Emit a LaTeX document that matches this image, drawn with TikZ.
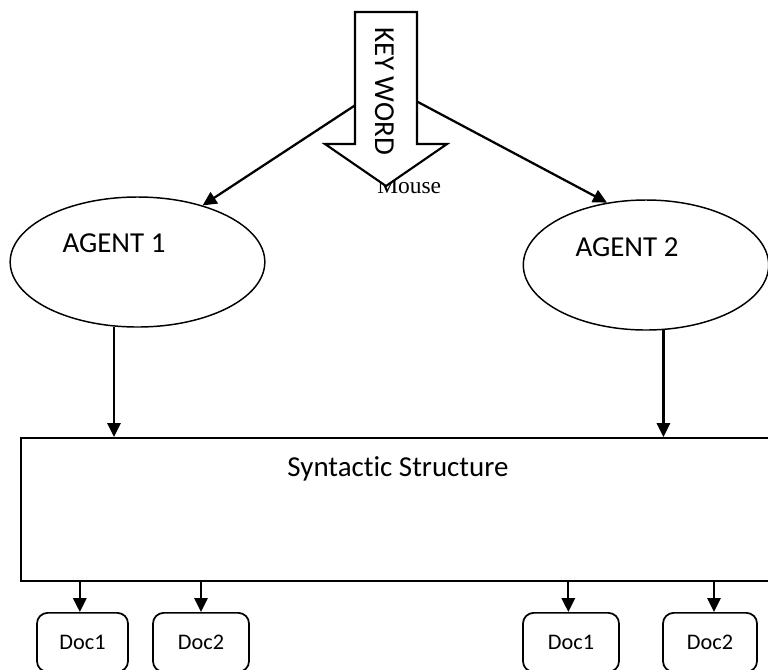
\documentclass[tikz,border=0pt]{standalone}
\usepackage{fontspec}
\setmainfont{Carlito}[Ligatures={NoCommon,NoRare}]
\newfontfamily\mouseserif{Liberation Serif}
\usetikzlibrary{arrows.meta,shapes.geometric}
\begin{document}
\begin{tikzpicture}[x=0.75pt,y=-0.75pt,
  conn/.style={line width=1.7pt,-{Triangle[length=10.5pt,width=10pt]}},
  agent/.style={draw,ellipse,line width=1.1pt,inner sep=0pt},
  lbl/.style={font=\fontsize{21.7}{26}\selectfont,inner sep=0pt},
  docbox/.style={draw,rounded corners=8pt,line width=1.3pt,inner sep=0pt,
    font=\fontsize{16.7}{20}\selectfont,anchor=north,minimum height=44.25pt},
  kwarrow/.style={draw,fill=white,line width=1.6pt,line join=miter},
]
\useasboundingbox (0,0) rectangle (768,669);
\clip (0,0) rectangle (768,669);

% agents
\node[agent,minimum width=191pt,minimum height=97.5pt] (a1) at (137.5,262) {};
\node[lbl,anchor=base] (a1t) at (114,252) {AGENT 1};
\node[agent,minimum width=184pt,minimum height=97.5pt] (a2) at (646,265) {};
\node[lbl,anchor=base] (a2t) at (627,256) {AGENT 2};

% keyword arrow connectors (behind the arrow)
\coordinate (kw) at (386,85);
\draw[conn] (kw) -- (a1.41);
\draw[conn] (kw) -- (a2.122);

% Mouse label, partly covered by arrow
\node[inner sep=0pt,anchor=base west,font=\mouseserif\fontsize{17.6}{20}\selectfont] (mouse) at (377,193) {Mouse};

% key word arrow
\draw[kwarrow] (355,12) -- (417,12) -- (417,144) -- (447,144) -- (386,186)
  -- (325,144) -- (355,144) -- cycle;
\node[lbl,rotate=-90] (kwt) at (384.5,91) {KEY WORD};

% syntactic structure box
\node[draw,line width=1.8pt,inner sep=0pt,anchor=north west,
  minimum width=564pt,minimum height=107.25pt] (ss) at (20,437) {};
\node[lbl,anchor=base] (sst) at (398,476) {Syntactic Structure};

\draw[conn] (a1.250) -- (a1.250 |- ss.north);
\draw[conn] (a2.285) -- (a2.285 |- ss.north);

% documents
\node[docbox,minimum width=68.25pt] (d1) at (82.5,612) {Doc1};
\node[docbox,minimum width=72pt] (d2) at (201,612) {Doc2};
\node[docbox,minimum width=72pt] (d3) at (571,612) {Doc1};
\node[docbox,minimum width=70.5pt] (d4) at (710,612) {Doc2};

\draw[conn] ([xshift=-2pt]d1.north |- ss.south) -- ([xshift=-2pt]d1.north);
\draw[conn] (d2.north |- ss.south) -- (d2.north);
\draw[conn] ([xshift=-2pt]d3.north |- ss.south) -- ([xshift=-2pt]d3.north);
\draw[conn] ([xshift=3pt]d4.north |- ss.south) -- ([xshift=3pt]d4.north);
\end{tikzpicture}
\end{document}
